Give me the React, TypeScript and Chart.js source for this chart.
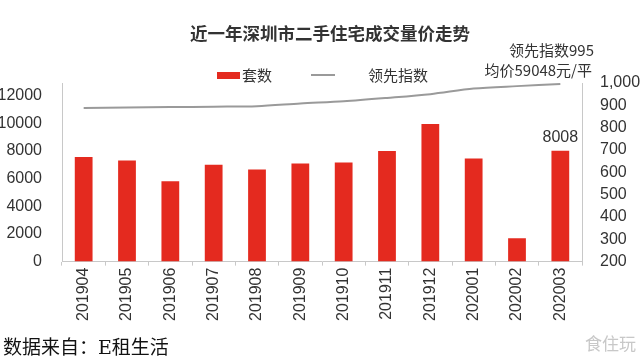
import React, { useEffect, useRef } from "react";
import { Chart, registerables } from "chart.js";

Chart.register(...registerables);

const categories = ["201904", "201905", "201906", "201907", "201908", "201909", "201910", "201911", "201912", "202001", "202002", "202003"];
const unitsSold = [7550, 7300, 5800, 7000, 6650, 7080, 7150, 7980, 9930, 7440, 1680, 8008];
const leadIndex = [888, 890, 892, 894, 896, 908, 918, 933, 950, 975, 986, 995];
const leftTickValues = [0, 2000, 4000, 6000, 8000, 10000, 12000];
const leftRange = { min: 0, max: 12900 };
const rightTickValues = [200, 300, 400, 500, 600, 700, 800, 900, 1000];

const titleText = "近一年深圳市二手住宅成交量价走势";
const barLabel = "套数";
const lineLabel = "领先指数";
const noteIndex = "领先指数995";
const notePrice = "均价59048元/平";
const sourceText = "数据来自：E租生活";
const watermark = "食住玩";

const RED = "#e42a1f";
const GREY = "#9a9a9a";
const SANS = "'Liberation Sans', Arial, 'Noto Sans CJK SC', sans-serif";
const CJK = "'Noto Sans CJK SC', 'Liberation Sans', sans-serif";

const overlay = {
  id: "overlay",
  afterDraw(chart: any) {
    const ctx = chart.ctx;
    ctx.save();
    ctx.textBaseline = "middle";
    ctx.fillStyle = "#333";
    ctx.font = `bold 17.5px ${CJK}`;
    ctx.textAlign = "center";
    ctx.fillText(titleText, 330, 33);
    ctx.fillStyle = RED;
    ctx.fillRect(217, 72, 23, 7);
    ctx.fillStyle = "#333";
    ctx.font = `15px ${CJK}`;
    ctx.textAlign = "left";
    ctx.fillText(barLabel, 242, 75);
    ctx.strokeStyle = GREY;
    ctx.lineWidth = 2;
    ctx.beginPath();
    ctx.moveTo(311, 75);
    ctx.lineTo(335, 75);
    ctx.stroke();
    ctx.fillText(lineLabel, 368, 75);
    ctx.textAlign = "right";
    ctx.fillText(noteIndex, 594, 50);
    ctx.fillText(notePrice, 592, 70);
    const meta = chart.getDatasetMeta(0);
    const last = meta.data[meta.data.length - 1];
    ctx.textAlign = "center";
    ctx.font = `16px ${SANS}`;
    ctx.fillText(String(unitsSold[unitsSold.length - 1]), last.x, last.y - 13);
    ctx.textAlign = "left";
    ctx.fillStyle = "#111";
    ctx.font = `19px 'DejaVu Serif', 'Liberation Serif', 'Noto Sans CJK SC', serif`;
    ctx.fillText(sourceText, 3, 349);
    ctx.textAlign = "right";
    ctx.fillStyle = "#c8c8c8";
    ctx.font = `17px ${CJK}`;
    ctx.fillText(watermark, 636, 344);
    ctx.restore();
  },
};

export default function App() {
  const ref = useRef<HTMLCanvasElement>(null);
  useEffect(() => {
    if (!ref.current) return;
    const chart = new Chart(ref.current, {
      type: "bar",
      data: {
        labels: categories,
        datasets: [
          {
            type: "bar",
            label: barLabel,
            data: unitsSold,
            backgroundColor: RED,
            barPercentage: 0.41,
            categoryPercentage: 1,
            yAxisID: "y",
            order: 2,
          },
          {
            type: "line",
            label: lineLabel,
            data: leadIndex,
            borderColor: GREY,
            borderWidth: 2,
            pointRadius: 0,
            tension: 0.3,
            yAxisID: "y1",
            order: 1,
          } as any,
        ],
      },
      options: {
        responsive: false,
        animation: false,
        layout: { padding: { top: 83, left: 0, right: 0, bottom: 40 } },
        plugins: { legend: { display: false }, title: { display: false }, tooltip: { enabled: false } },
        scales: {
          x: {
            grid: { display: true, drawOnChartArea: false, tickLength: 4, color: "#c8c8c8" },
            border: { color: "#c8c8c8" },
            ticks: { maxRotation: 90, minRotation: 90, font: { size: 16, family: SANS }, color: "#333", padding: 2 },
          },
          y: {
            position: "left",
            min: leftRange.min,
            max: leftRange.max,
            afterBuildTicks: (axis: any) => {
              axis.ticks = leftTickValues.map((v) => ({ value: v }));
            },
            afterFit: (axis: any) => {
              axis.width = 62;
            },
            grid: { display: false },
            border: { display: true, color: "#c8c8c8" },
            ticks: { callback: (v: any) => String(v), font: { size: 16, family: SANS }, color: "#333", padding: 12 },
          },
          y1: {
            position: "right",
            min: rightTickValues[0],
            max: rightTickValues[rightTickValues.length - 1],
            afterBuildTicks: (axis: any) => {
              axis.ticks = rightTickValues.map((v) => ({ value: v }));
            },
            afterFit: (axis: any) => {
              axis.width = 58;
            },
            grid: { display: false },
            border: { display: true, color: "#c8c8c8" },
            ticks: { callback: (v: any) => Number(v).toLocaleString("en-US"), font: { size: 16, family: SANS }, color: "#333", padding: 10 },
          },
        },
      },
      plugins: [overlay],
    });
    return () => chart.destroy();
  }, []);
  return (
    <div style={{ position: "absolute", left: 0, top: 0, width: 640, height: 363, background: "#fff" }}>
      <canvas ref={ref} width={640} height={363} />
    </div>
  );
}
